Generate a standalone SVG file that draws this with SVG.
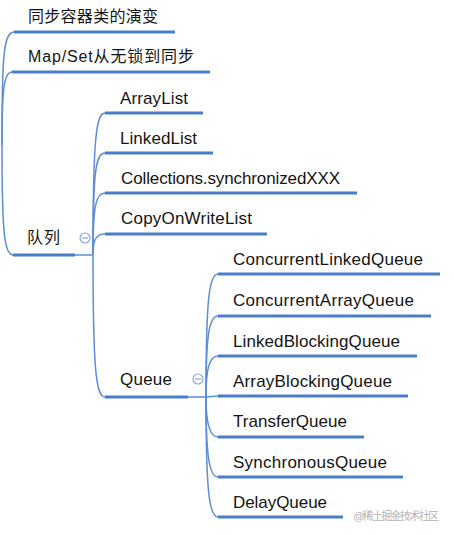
<svg xmlns="http://www.w3.org/2000/svg" width="454" height="535" viewBox="0 0 454 535">
<style>
text{font-family:"Liberation Sans","Noto Sans CJK SC",sans-serif;font-size:17px;fill:#141414}
.cj{font-size:16px}
.u{stroke:#4a7ec8;stroke-width:3;fill:none}
.c{stroke:#5b8ed6;stroke-width:1.5;fill:none}
.t{stroke:#5b8ed6;stroke-width:1.5;fill:none}
.k{fill:#fff;stroke:#86a8dc;stroke-width:1.2}
.km{stroke:#86a8dc;stroke-width:1.2}
.wm{font-size:11px;fill:#b4b4b4}
</style>
<rect width="454" height="535" fill="#fff"/>
<g id="connectors">
<path class="c" d="M2 145 C2 60 3 32 14 32"/>
<path class="c" d="M2 145 C2 95 3 72 12 72"/>
<path class="c" d="M2 145 C2 230 4 255 13 255"/>
<path class="c" d="M93 254 C93 140 96 113 105 113"/>
<path class="c" d="M93 254 C93 170 96 153 105 153"/>
<path class="c" d="M93 254 C93 205 96 193 105 193"/>
<path class="c" d="M93 254 C93 240 96 234 105 234"/>
<path class="c" d="M93 254 C93 370 96 397 105 397"/>
<path class="c" d="M206 397 C206 300 209 274 218 274"/>
<path class="c" d="M206 397 C206 335 209 316 218 316"/>
<path class="c" d="M206 397 C206 370 209 356 218 356"/>
<path class="c" d="M206 397 L218 396"/>
<path class="c" d="M206 397 C206 420 209 437 218 437"/>
<path class="c" d="M206 397 C206 455 209 477 218 477"/>
<path class="c" d="M206 397 C206 490 209 517 218 517"/>
</g>
<g id="n1"><line class="u" x1="14" y1="32" x2="175" y2="32"/><text class="cj" x="28" y="22" textLength="130">同步容器类的演变</text></g>
<g id="n2"><line class="u" x1="12" y1="72" x2="210" y2="72"/><text class="cj" x="28" y="62" textLength="166">Map/Set从无锁到同步</text></g>
<g id="n3"><line class="u" x1="13" y1="255" x2="75" y2="255"/><line class="t" x1="75" y1="255" x2="93" y2="255"/><text class="cj" x="27" y="243" textLength="33">队列</text><circle class="k" cx="85" cy="238" r="5"/><line class="km" x1="82" y1="238" x2="88" y2="238"/></g>
<g id="n4"><line class="u" x1="105" y1="113" x2="203" y2="113"/><text x="120" y="104" textLength="68">ArrayList</text></g>
<g id="n5"><line class="u" x1="105" y1="153" x2="213" y2="153"/><text x="120" y="144" textLength="77">LinkedList</text></g>
<g id="n6"><line class="u" x1="105" y1="193" x2="357" y2="193"/><text x="121" y="184" textLength="219">Collections.synchronizedXXX</text></g>
<g id="n7"><line class="u" x1="105" y1="234" x2="267" y2="234"/><text x="121" y="224" textLength="131">CopyOnWriteList</text></g>
<g id="n8"><line class="u" x1="105" y1="397" x2="188" y2="397"/><line class="t" x1="188" y1="397" x2="206" y2="397"/><text x="120" y="385" textLength="52">Queue</text><circle class="k" cx="198" cy="379" r="5"/><line class="km" x1="195" y1="379" x2="201" y2="379"/></g>
<g id="n9"><line class="u" x1="218" y1="274" x2="440" y2="274"/><text x="233" y="265" textLength="190">ConcurrentLinkedQueue</text></g>
<g id="n10"><line class="u" x1="218" y1="316" x2="431" y2="316"/><text x="233" y="306" textLength="181">ConcurrentArrayQueue</text></g>
<g id="n11"><line class="u" x1="218" y1="356" x2="417" y2="356"/><text x="233" y="347" textLength="167">LinkedBlockingQueue</text></g>
<g id="n12"><line class="u" x1="218" y1="396" x2="408" y2="396"/><text x="233" y="387" textLength="159">ArrayBlockingQueue</text></g>
<g id="n13"><line class="u" x1="218" y1="437" x2="364" y2="437"/><text x="233" y="427" textLength="114">TransferQueue</text></g>
<g id="n14"><line class="u" x1="218" y1="477" x2="403" y2="477"/><text x="233" y="468" textLength="154">SynchronousQueue</text></g>
<g id="n15"><line class="u" x1="218" y1="517" x2="343" y2="517"/><text x="233" y="508" textLength="94">DelayQueue</text></g>
<text class="wm" x="353" y="520" textLength="86">@稀土掘金技术社区</text>
</svg>
